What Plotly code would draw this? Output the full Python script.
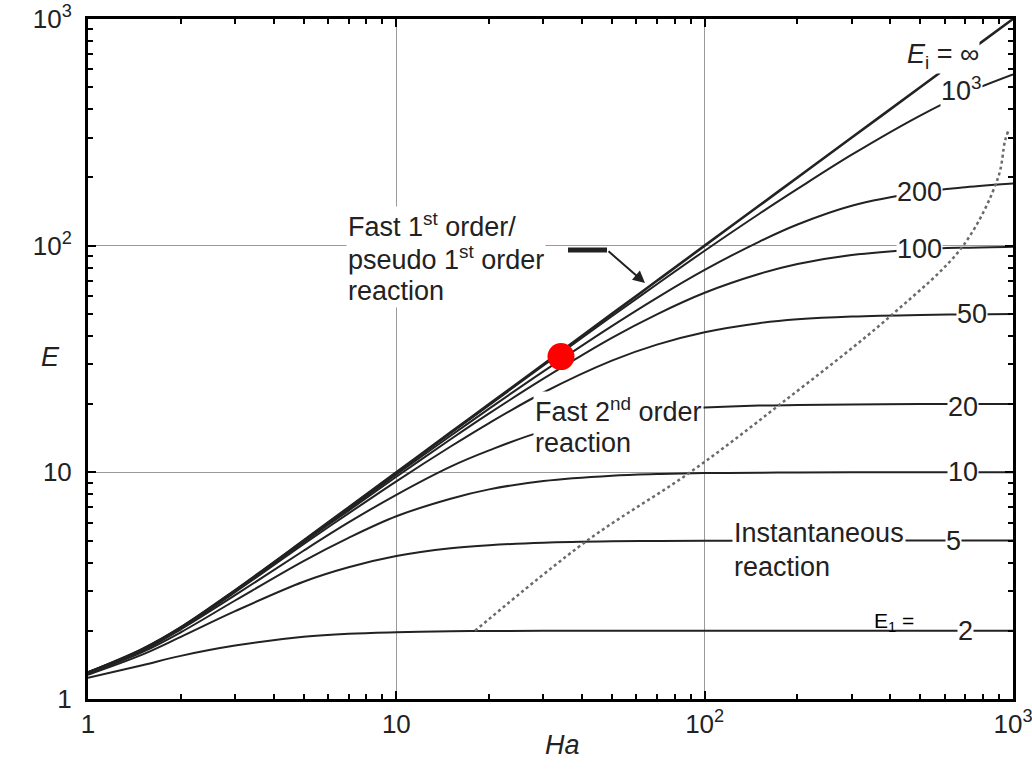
import numpy as np
import plotly.graph_objects as go

# ---------------- data ----------------
HA = [1, 1.5, 2, 3, 5, 7, 10, 15, 20, 30, 50, 70, 100, 150, 200, 300, 500, 700, 1000]

E_INF  = [1.31, 1.66, 2.07, 3.02, 5.0, 7.0, 10, 15, 20, 30, 50, 70, 100, 150, 200, 300, 500, 700, 1000]
E_1000 = [1.31, 1.66, 2.07, 3.01, 4.99, 6.97, 9.95, 14.9, 19.8, 29.6, 48.8, 67.6, 95, 138, 178, 252, 375, 470, 570]
E_200  = [1.31, 1.65, 2.06, 3.0, 4.95, 6.88, 9.78, 14.5, 19.1, 27.9, 44.2, 58.9, 78.2, 104, 124, 150, 172, 181, 188]
E_100  = [1.31, 1.65, 2.06, 2.99, 4.92, 6.78, 9.56, 14.0, 18.2, 25.9, 39.2, 49.8, 62, 75, 83, 91, 96.3, 98, 99]
E_50   = [1.30, 1.64, 2.05, 2.96, 4.82, 6.59, 9.13, 13.0, 16.5, 22.5, 31.1, 36.6, 41.5, 45.5, 47.3, 48.7, 49.5, 49.7, 49.9]
E_20   = [1.30, 1.63, 2.03, 2.87, 4.51, 6.01, 7.96, 10.6, 12.5, 15.2, 17.6, 18.7, 19.3, 19.7, 19.8, 19.9, 20, 20, 20]
E_10   = [1.29, 1.61, 1.97, 2.72, 4.06, 5.14, 6.4, 7.65, 8.41, 9.16, 9.67, 9.83, 9.92, 9.96, 9.98, 10, 10, 10, 10]
E_5    = [1.28, 1.57, 1.88, 2.44, 3.29, 3.81, 4.27, 4.62, 4.77, 4.89, 4.96, 4.98, 4.99, 5, 5, 5, 5, 5, 5]
E_2    = [1.24, 1.41, 1.55, 1.72, 1.88, 1.94, 1.97, 1.99, 1.995, 2, 2, 2, 2, 2, 2, 2, 2, 2, 2]

CURVES = [E_INF, E_1000, E_200, E_100, E_50, E_20, E_10, E_5, E_2]
CURVE_LABELS = ["<i>E</i><sub>i</sub> = \u221e", "10<sup>3</sup>", "200", "100", "50", "20", "10", "5", "2"]

DOT_HA = [18, 41.6, 89.7, 176, 408, 689, 895, 942, 965]
DOT_E  = [2, 5, 10, 20, 50, 100, 200, 290, 320]

POINT_HA = [34.2]
POINT_E = [32.4]

TICK_VALS = [1, 10, 100, 1000]
TICK_TEXT = ["1", "10", "10<sup>2</sup>", "10<sup>3</sup>"]
MINOR_VALS = [m * d for d in (1, 10, 100) for m in range(2, 10)]

# ---------------- styling ----------------
FONT = "Liberation Sans, Arial, sans-serif"
INK = "#222222"
LABEL_HA = [593, 680, 499, 499, 736, 689, 689, 639, 699]   # where each curve label sits
LABEL_YSHIFT = [14, 6, 0, 0, 0, -3, 0, 0, 0]

fig = go.Figure()

for i, ys in enumerate(CURVES):
    fig.add_trace(go.Scatter(x=HA, y=ys, mode="lines", line=dict(color=INK, width=2.6 if i == 0 else 2.0),
                             line_shape="spline", hoverinfo="skip", showlegend=False))

fig.add_trace(go.Scatter(x=DOT_HA, y=DOT_E, mode="lines", line=dict(color="#6a6a6a", width=2.5, dash="dot"),
                         line_shape="spline", showlegend=False))

fig.add_trace(go.Scatter(x=POINT_HA, y=POINT_E, mode="markers",
                         marker=dict(color="#ff0000", size=27, line=dict(width=0)), showlegend=False))

# curve labels (positioned on the curves)
for ys, lab, hx, dy in zip(CURVES, CURVE_LABELS, LABEL_HA, LABEL_YSHIFT):
    yv = np.interp(np.log10(hx), np.log10(HA), np.log10(ys))
    fig.add_annotation(x=np.log10(hx), y=yv, text=lab, showarrow=False, yshift=dy,
                       font=dict(family=FONT, size=27, color=INK), bgcolor="white", borderpad=0)


def px2paper(px, py):
    return (px - 88) / 925.0, (699 - py) / 680.0


def add_text(px, py, text, size=27, xanchor="left", color=INK, italic=False, bg=None):
    x, y = px2paper(px, py)
    fig.add_annotation(x=x, y=y, xref="paper", yref="paper", text=text, showarrow=False,
                       xanchor=xanchor, yanchor="middle", align="left",
                       bgcolor=bg if bg else "rgba(0,0,0,0)", borderpad=1,
                       font=dict(family=FONT, size=size, color=color,
                                 style="italic" if italic else "normal"))


def add_block(px, pys, lines):
    for py, line in zip(pys, lines):
        add_text(px, py, line, bg="white")


add_block(346, [225, 258, 291], ["Fast 1<sup>st</sup> order/", "pseudo 1<sup>st</sup> order", "reaction"])
add_block(533, [410, 443], ["Fast 2<sup>nd</sup> order", "reaction"])
add_block(732, [533, 567], ["Instantaneous", "reaction"])
add_text(872, 622, "E<sub>1</sub> =", size=21, color="black")
add_text(50, 357, "E", size=27, xanchor="center", italic=True)
add_text(562, 745, "Ha", size=27, xanchor="center", italic=True)

# pointer from the first-order text to the E_i = inf curve
x0, y0 = px2paper(568, 250)
x1, y1 = px2paper(607, 250)
fig.add_shape(type="line", xref="paper", yref="paper", x0=x0, y0=y0, x1=x1, y1=y1,
              line=dict(color=INK, width=5))
hx, hy = px2paper(645, 283)
fig.add_annotation(x=hx, y=hy, xref="paper", yref="paper", ax=-38, ay=-33, text="",
                   showarrow=True, arrowhead=2, arrowsize=1.2, arrowwidth=2, arrowcolor=INK)

axis_common = dict(type="log", range=[0, 3], tickmode="array", tickvals=TICK_VALS, ticktext=TICK_TEXT,
                   showgrid=True, gridcolor="#9a9a9a", gridwidth=1, automargin=False,
                   showline=True, linecolor="black", linewidth=3, mirror="allticks",
                   ticks="inside", ticklen=8, tickwidth=2, tickcolor="black",
                   ticklabeloverflow="allow",
                   tickfont=dict(family=FONT, size=26, color=INK),
                   minor=dict(tickmode="array", tickvals=MINOR_VALS, ticks="inside", ticklen=5,
                              tickwidth=2, tickcolor="black", showgrid=False),
                   zeroline=False)

fig.update_layout(
    width=1032, height=770,
    margin=dict(l=88, r=19, t=19, b=71),
    paper_bgcolor="white", plot_bgcolor="white",
    xaxis=dict(axis_common, ticklabelstandoff=0),
    yaxis=dict(axis_common, ticklabelstandoff=8),
    showlegend=False,
)

fig.write_html("out.html")
